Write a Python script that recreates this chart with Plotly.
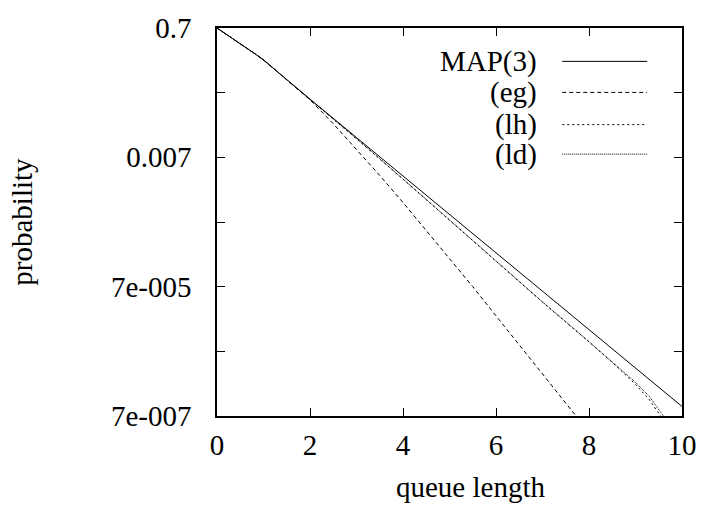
import plotly.graph_objects as go

# ---- data ----
map_x = [0, 0.5, 0.8, 1.0, 1.5, 2, 3, 4, 5, 6, 7, 8, 9, 10]
map_y = [0.7, 0.403, 0.285, 0.224, 0.111, 0.0556, 0.01415, 0.00361, 0.000919,
         0.000234, 5.96e-5, 1.52e-5, 3.86e-6, 9.84e-7]

eg_x = [0, 0.5, 0.8, 1.0, 1.5, 2, 2.5, 3, 3.5, 4, 4.5, 5, 5.5, 6, 6.5, 7, 7.5, 7.8]
eg_y = [0.7, 0.403, 0.285, 0.224, 0.111, 0.0543, 0.0232, 0.00923, 0.00367, 0.0014,
        0.000519, 0.000193, 7.0e-5, 2.48e-5, 8.81e-6, 3.13e-6, 1.11e-6, 5.96e-7]

lh_x = [0, 0.5, 0.8, 1.0, 1.5, 2, 3, 4, 5, 6, 7, 8, 8.5, 9, 9.3, 9.54, 9.7]
lh_y = [0.7, 0.403, 0.2915, 0.2265, 0.111, 0.0556, 0.01352, 0.003214, 0.000747,
        0.0001695, 4.03e-5, 9.79e-6, 4.73e-6, 2.16e-6, 1.245e-6, 7.0e-7, 4.96e-7]

ld_x = [0, 0.5, 0.8, 1.0, 1.5, 2, 3, 4, 5, 6, 7, 8, 8.5, 9, 9.3, 9.6, 9.75]
ld_y = [0.7, 0.403, 0.2915, 0.2265, 0.111, 0.0556, 0.0137, 0.00324, 0.00075,
        0.000172, 4.07e-5, 9.88e-6, 4.84e-6, 2.32e-6, 1.40e-6, 7.0e-7, 4.96e-7]

series_names = ["MAP(3)", "(eg)", "(lh)", "(ld)"]
series_dash = ["solid", "4px,3px", "2px,3px", "1px,1px"]

y_tickvals = [0.7, 0.07, 0.007, 7e-4, 7e-5, 7e-6, 7e-7]
y_ticktext = ["0.7", "", "0.007", "", "7e-005", "", "7e-007"]
x_tickvals = [0, 2, 4, 6, 8, 10]

FONT = ("Liberation Serif, DejaVu Serif, Noto Serif, FreeSerif, Nimbus Roman, "
        "Tinos, Times New Roman, Times, serif")
FS = 29

fig = go.Figure()
for xs, ys, name, dash in zip([map_x, eg_x, lh_x, ld_x], [map_y, eg_y, lh_y, ld_y],
                              series_names, series_dash):
    fig.add_trace(go.Scatter(x=xs, y=ys, mode="lines", name=name,
                             line=dict(color="black", width=1, dash=dash),
                             showlegend=False))

# manual legend (text right-aligned, sample to the right, gnuplot style)
leg_rows = [0.914, 0.834, 0.751, 0.675]
for name, dash, yy in zip(series_names, series_dash, leg_rows):
    fig.add_annotation(x=0.693, y=yy, xref="paper", yref="paper", text=name,
                       showarrow=False, xanchor="right", yanchor="middle",
                       font=dict(family=FONT, size=FS, color="black"))
    fig.add_shape(type="line", xref="paper", yref="paper", x0=0.7425, x1=0.925,
                  y0=yy, y1=yy, line=dict(color="black", width=1, dash=dash))

fig.add_annotation(x=0.545, y=-0.184, xref="paper", yref="paper", text="queue length",
                   showarrow=False, xanchor="center", yanchor="middle",
                   font=dict(family=FONT, size=FS, color="black"))
fig.add_annotation(x=-0.42, y=0.5, xref="paper", yref="paper", text="probability",
                   showarrow=False, xanchor="center", yanchor="middle", textangle=-90,
                   font=dict(family=FONT, size=FS, color="black"))

fig.update_layout(
    width=709, height=518,
    margin=dict(l=217, r=26, t=19, b=102),
    paper_bgcolor="white", plot_bgcolor="white",
    font=dict(family=FONT, size=FS, color="black"),
)
fig.update_xaxes(range=[0, 10], tickvals=x_tickvals, ticks="inside", ticklen=8,
                 tickwidth=1, tickcolor="black", showline=True, linecolor="black",
                 linewidth=1.5, mirror="ticks", showgrid=False, zeroline=False,
                 ticklabelstandoff=2, tickfont=dict(family=FONT, size=FS, color="black"))
fig.update_yaxes(type="log", range=[-6.1549, -0.1549], tickvals=y_tickvals,
                 ticktext=y_ticktext, ticks="inside", ticklen=8, tickwidth=1,
                 tickcolor="black", showline=True, linecolor="black", linewidth=1.5,
                 mirror="ticks", showgrid=False, zeroline=False, ticklabelstandoff=18,
                 tickfont=dict(family=FONT, size=FS, color="black"))

fig.write_html("out.html")
